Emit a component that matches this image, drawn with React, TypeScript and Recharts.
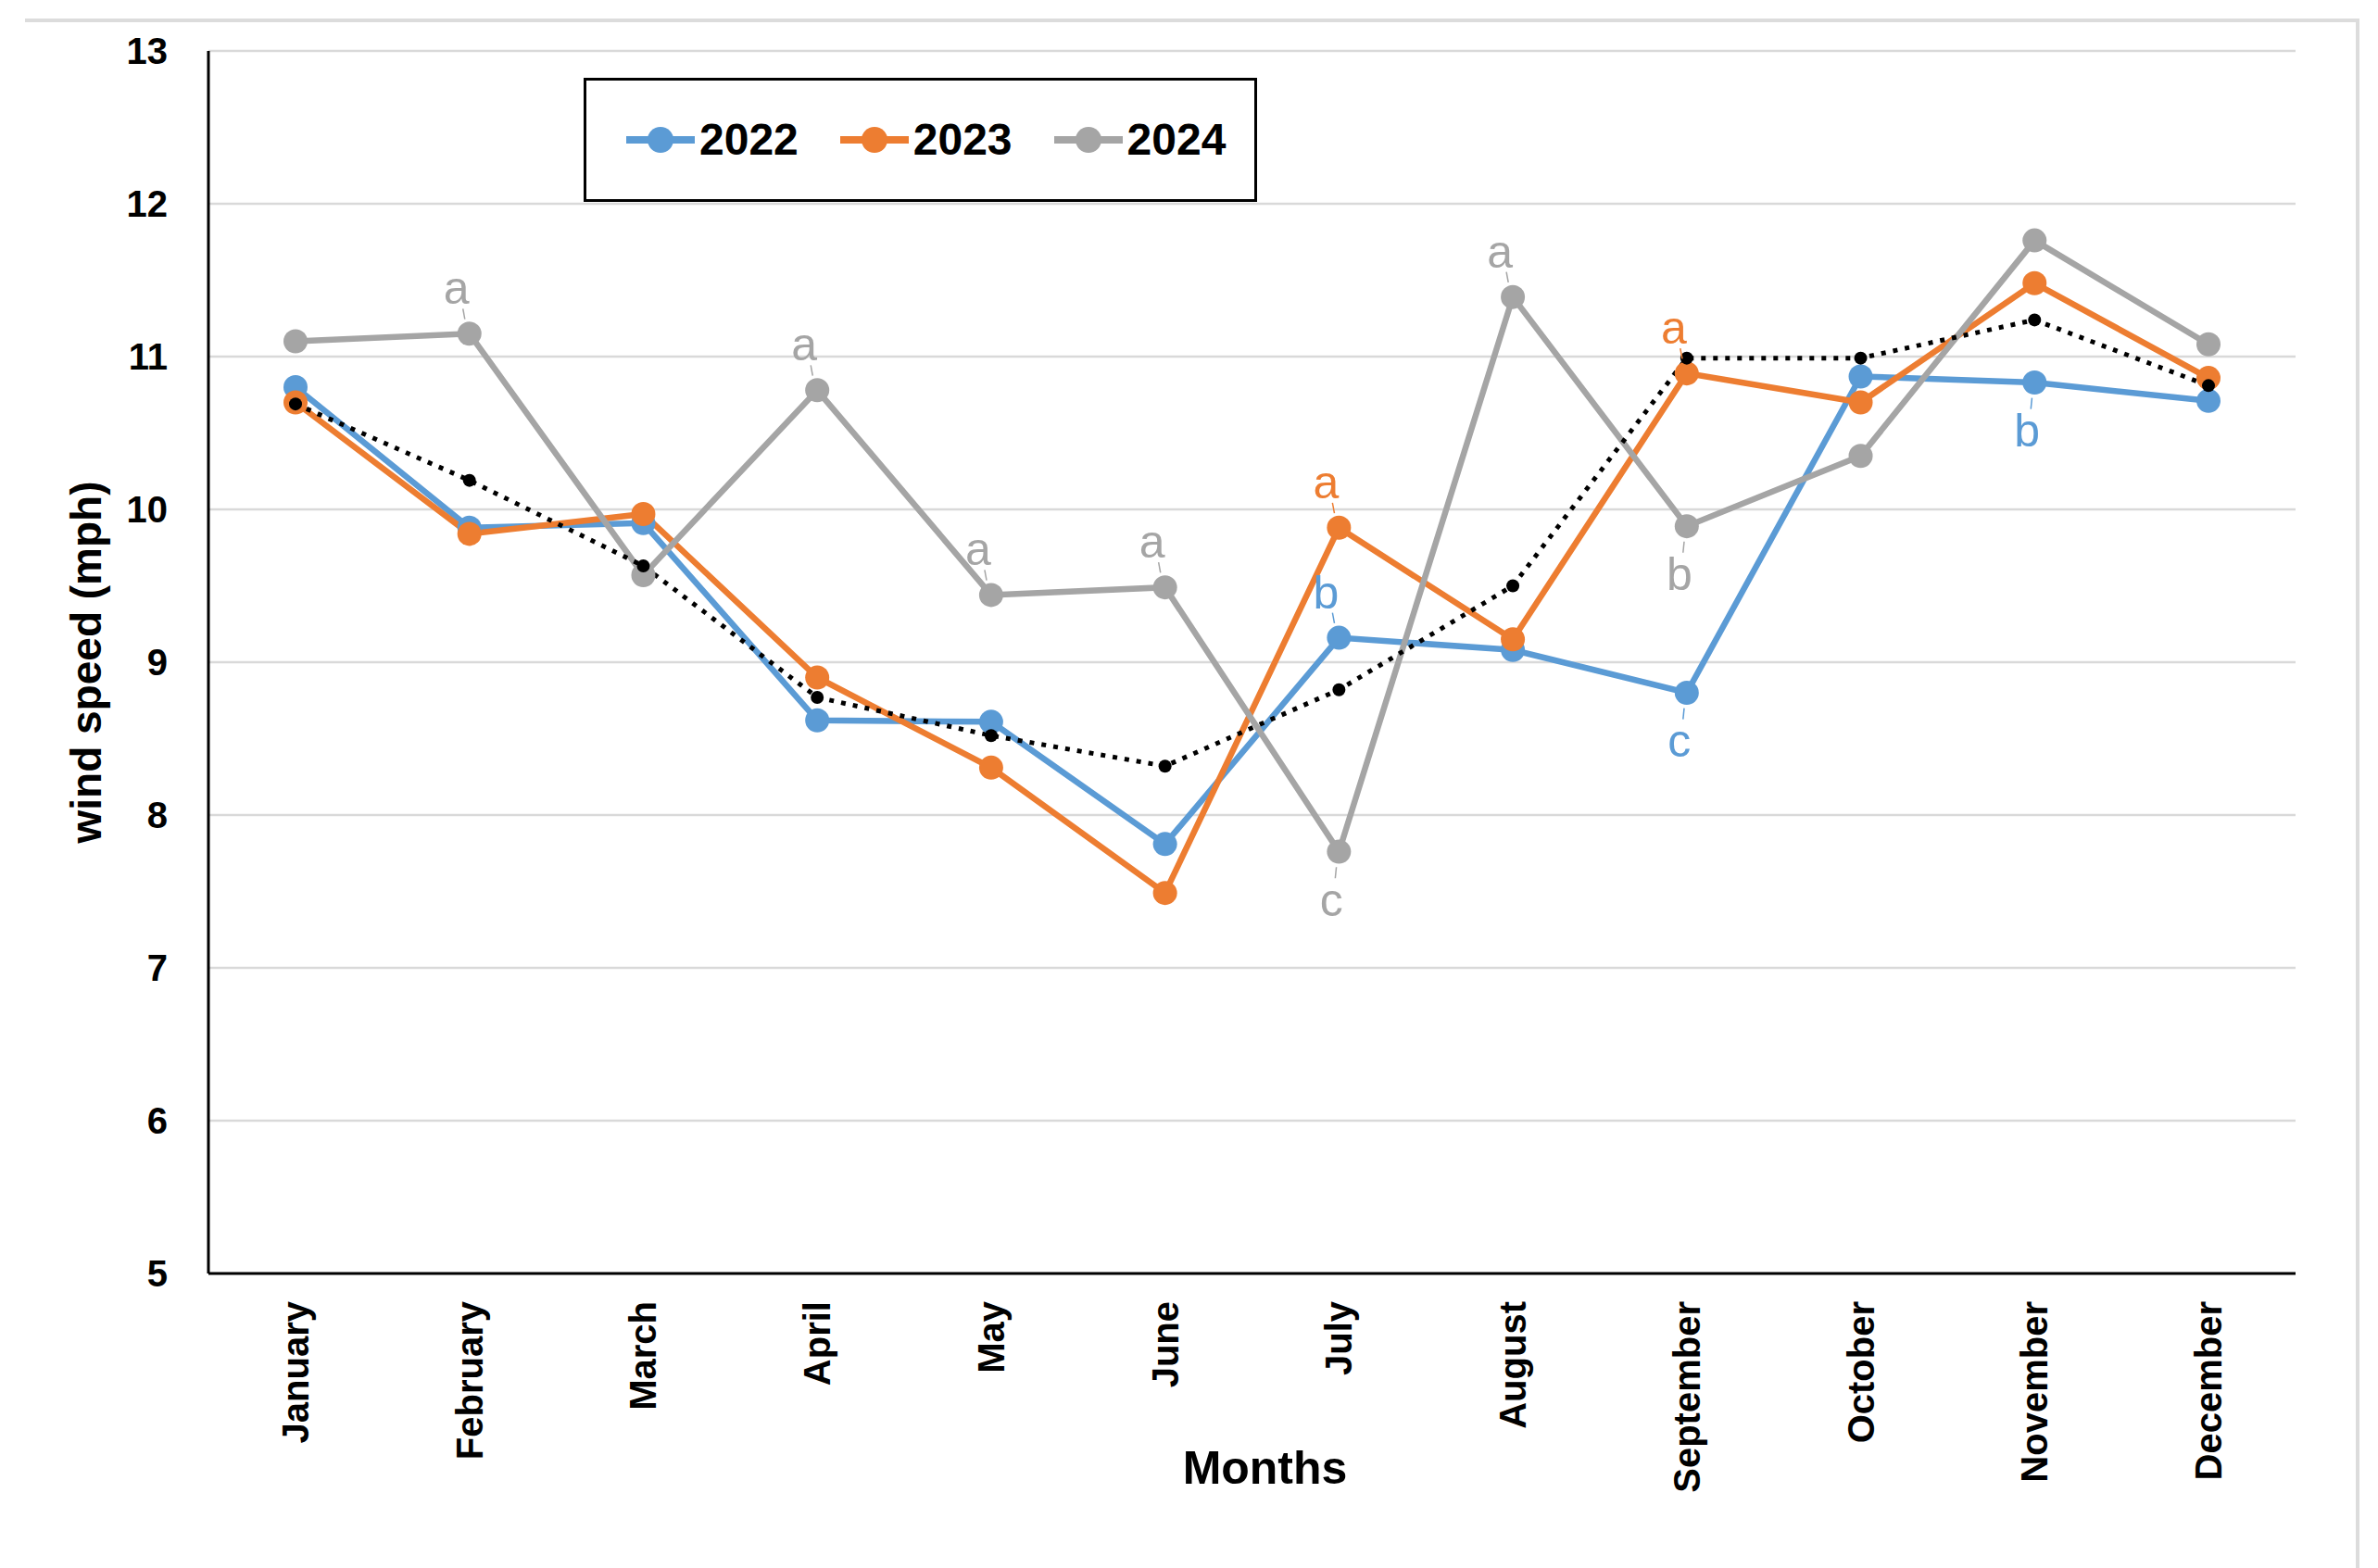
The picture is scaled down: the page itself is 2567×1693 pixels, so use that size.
import { CartesianGrid, Legend, LabelList, Line, LineChart, XAxis, YAxis } from "recharts"

const months = [
  "January", "February", "March", "April", "May", "June",
  "July", "August", "September", "October", "November", "December",
]

const speed2022 = [10.8, 9.88, 9.91, 8.62, 8.61, 7.81, 9.16, 9.08, 8.8, 10.87, 10.83, 10.71]
const speed2023 = [10.7, 9.84, 9.97, 8.9, 8.31, 7.49, 9.88, 9.15, 10.89, 10.7, 11.48, 10.86]
const speed2024 = [11.1, 11.15, 9.57, 10.78, 9.44, 9.49, 7.76, 11.39, 9.89, 10.35, 11.76, 11.08]
const speedMean = [10.69, 10.19, 9.63, 8.77, 8.52, 8.32, 8.82, 9.5, 10.99, 10.99, 11.24, 10.81]

const letters2022 = ["", "", "", "", "", "", "b", "", "c", "", "b", ""]
const letters2023 = ["", "", "", "", "", "", "a", "", "a", "", "", ""]
const letters2024 = ["", "a", "", "a", "a", "a", "c", "a", "b", "", "", ""]

const yTicks = [5, 6, 7, 8, 9, 10, 11, 12, 13]

const data = months.map((month, i) => ({
  month,
  y2022: speed2022[i],
  y2023: speed2023[i],
  y2024: speed2024[i],
  mean: speedMean[i],
  l2022: letters2022[i],
  l2023: letters2023[i],
  l2024: letters2024[i],
}))

const BLUE = "#5b9bd5"
const ORANGE = "#ed7d31"
const GRAY = "#a5a5a5"
const FONT = "'Liberation Sans', Arial, sans-serif"
const NARROW = "'Liberation Sans Narrow', 'Arial Narrow', 'Liberation Sans', sans-serif"

const YTick = ({ x, y, payload }: any) => (
  <text x={x - 36} y={y} textAnchor="end" dominantBaseline="central" fontSize={40} fontWeight="bold" fontFamily={FONT} fill="#000">
    {payload.value}
  </text>
)

const XTick = ({ x, y, payload }: any) => (
  <g transform={`translate(${x},${y + 22}) rotate(-90)`}>
    <text x={0} y={0} textAnchor="end" dominantBaseline="central" fontSize={40} fontWeight="bold" fontFamily={FONT} fill="#000">
      {payload.value}
    </text>
  </g>
)

// letter goes under the point when the year sits clearly below the mean
const letterLabel = (values: number[], color: string) => (props: any) => {
  const { x, y, value, index } = props
  if (!value) return null
  const below = values[index] < speedMean[index] - 0.25
  const dx = below ? -8 : -14
  const dy = below ? 52 : -49
  return (
    <g>
      <line x1={x + dx * 0.35} y1={y + dy * 0.32} x2={x + dx * 0.5} y2={y + dy * 0.55} stroke={color} strokeWidth={1.5} />
      <text x={x + dx} y={y + dy} textAnchor="middle" dominantBaseline="central" fontSize={50} fontFamily={NARROW} fill={color}>
        {value}
      </text>
    </g>
  )
}

const LegendBox = ({ payload }: any) => (
  <div
    style={{
      boxSizing: "border-box",
      width: 727,
      height: 134,
      border: "3px solid #000",
      background: "#fff",
      display: "flex",
      alignItems: "center",
      paddingLeft: 43,
      gap: 45,
    }}
  >
    {(payload || [])
      .filter((item: any) => item.type !== "none")
      .map((item: any) => (
        <div key={item.value} style={{ display: "flex", alignItems: "center" }}>
          <svg width={74} height={32}>
            <line x1={0} y1={16} x2={74} y2={16} stroke={item.color} strokeWidth={8} />
            <circle cx={37} cy={16} r={14} fill={item.color} />
          </svg>
          <span style={{ marginLeft: 5, fontSize: 48, fontWeight: "bold", fontFamily: FONT, color: "#000", lineHeight: 1 }}>
            {item.value}
          </span>
        </div>
      ))}
  </div>
)

export default function App() {
  return (
    <div style={{ position: "absolute", left: 0, top: 0, width: 2567, height: 1693, background: "#fff", overflow: "hidden" }}>
      <div
        style={{
          position: "absolute",
          left: 27,
          top: 20,
          width: 2520,
          height: 1700,
          borderTop: "4px solid #dcdcdc",
          borderRight: "4px solid #dcdcdc",
          boxSizing: "border-box",
        }}
      />
      <div style={{ position: "absolute", left: 0, top: 0 }}>
        <LineChart width={2567} height={1693} data={data} margin={{ top: 55, right: 89, left: 0, bottom: 0 }}>
          <CartesianGrid horizontal vertical={false} stroke="#d9d9d9" strokeWidth={2.5} />
          <XAxis
            dataKey="month"
            height={318}
            padding={{ left: 94, right: 94 }}
            axisLine={{ stroke: "#000", strokeWidth: 3 }}
            tickLine={false}
            tick={<XTick />}
            interval={0}
            label={{
              value: "Months",
              position: "insideBottom",
              offset: 91,
              dx: 14,
              fontSize: 50,
              fontWeight: "bold",
              fontFamily: FONT,
              fill: "#000",
            }}
          />
          <YAxis
            domain={[5, 13]}
            ticks={yTicks}
            width={225}
            axisLine={{ stroke: "#000", strokeWidth: 3 }}
            tickLine={false}
            tick={<YTick />}
            label={{
              value: "wind speed (mph)",
              angle: -90,
              position: "insideLeft",
              offset: 93,
              fontSize: 46,
              fontWeight: "bold",
              fontFamily: FONT,
              fill: "#000",
              style: { textAnchor: "middle" },
            }}
          />
          <Legend
            verticalAlign="middle"
            align="center"
            content={<LegendBox />}
            wrapperStyle={{ left: 630, top: 84, width: 727, height: 134 }}
          />
          <Line
            dataKey="y2022"
            name="2022"
            stroke={BLUE}
            strokeWidth={6.5}
            dot={{ r: 13, fill: BLUE, stroke: BLUE, strokeWidth: 0 }}
            activeDot={false}
            isAnimationActive={false}
          >
            <LabelList dataKey="l2022" content={letterLabel(speed2022, BLUE)} />
          </Line>
          <Line
            dataKey="y2023"
            name="2023"
            stroke={ORANGE}
            strokeWidth={6.5}
            dot={{ r: 13, fill: ORANGE, stroke: ORANGE, strokeWidth: 0 }}
            activeDot={false}
            isAnimationActive={false}
          >
            <LabelList dataKey="l2023" content={letterLabel(speed2023, ORANGE)} />
          </Line>
          <Line
            dataKey="y2024"
            name="2024"
            stroke={GRAY}
            strokeWidth={6.5}
            dot={{ r: 13, fill: GRAY, stroke: GRAY, strokeWidth: 0 }}
            activeDot={false}
            isAnimationActive={false}
          >
            <LabelList dataKey="l2024" content={letterLabel(speed2024, GRAY)} />
          </Line>
          <Line
            dataKey="mean"
            name="mean"
            legendType="none"
            stroke="#000"
            strokeWidth={5}
            strokeDasharray="5 8"
            dot={{ r: 7, fill: "#000", stroke: "#000", strokeWidth: 0 }}
            activeDot={false}
            isAnimationActive={false}
          />
        </LineChart>
      </div>
    </div>
  )
}
